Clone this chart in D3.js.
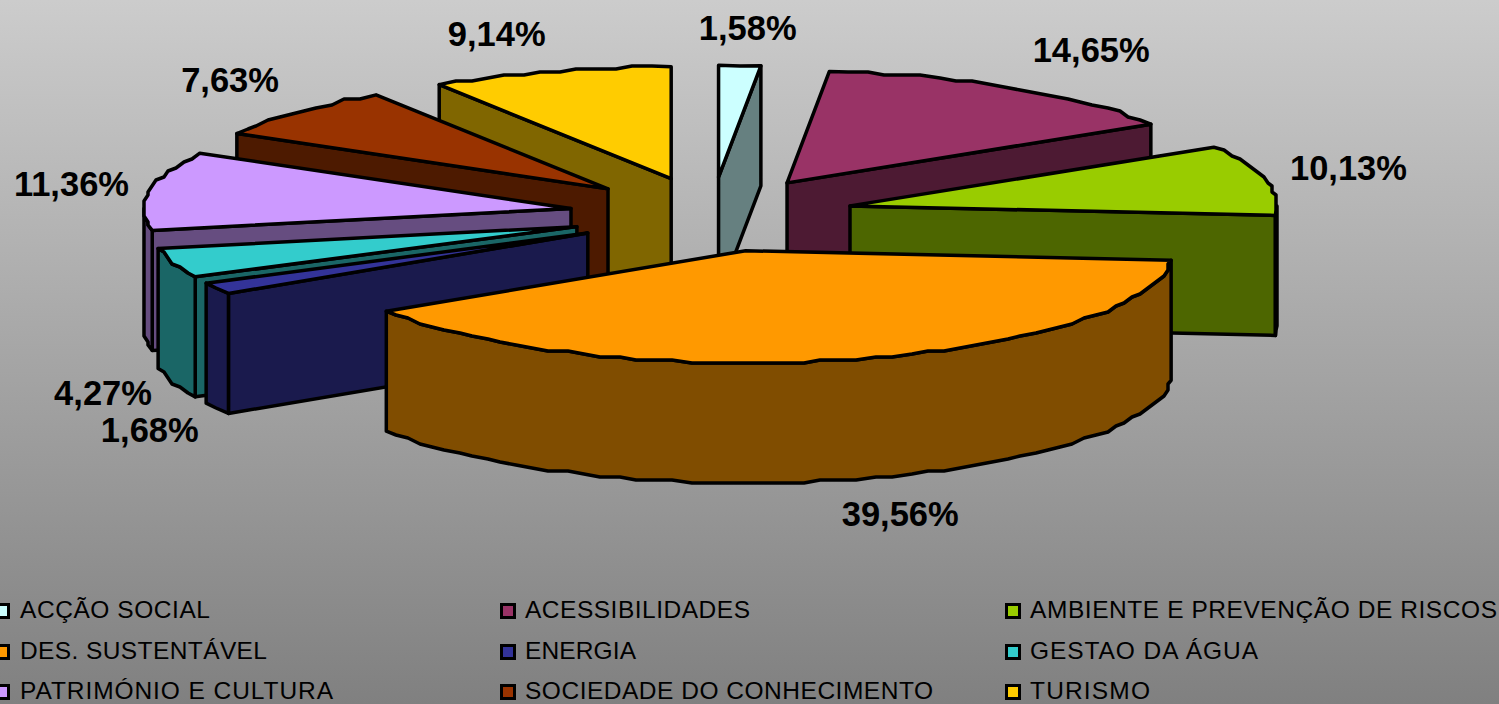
<!DOCTYPE html>
<html><head><meta charset="utf-8">
<script src="https://cdn.jsdelivr.net/npm/d3@7/dist/d3.min.js"></script>
<style>html,body{margin:0;padding:0;overflow:hidden;background:#888}svg{display:block}text{font-family:"Liberation Sans",Arial,sans-serif;fill:#000}</style>
</head><body><div id="chart"></div>
<script>
const categories=["ACÇÃO SOCIAL","ACESSIBILIDADES","AMBIENTE E PREVENÇÃO DE RISCOS","DES. SUSTENTÁVEL","ENERGIA","GESTAO DA ÁGUA","PATRIMÓNIO E CULTURA","SOCIEDADE DO CONHECIMENTO","TURISMO"];
const values=[1.58,14.65,10.13,39.56,1.68,4.27,11.36,7.63,9.14];
const colors=["#CCFFFF","#993366","#99CC00","#FF9900","#333399","#33CCCC","#CC99FF","#993300","#FFCC00"];

const W=1499,H=704,cx=711.5,cy=214.5,rx=427,ry=112,depth=120,explode=1/3;
const labelNudge=[[8,-37],[77.5,-38],[83,-12],[52,155],[-67,142],[-70,130],[-78,-7],[-67.5,-32],[-53.5,-37]];
const legendCols=[-4.5,501.5,1006.5],legendRows=[611,652,692],legendTextX=[20,525,1030];
const legendTextWidths=[190,225,467,247,111,228,313,408,120];

const svg=d3.select("#chart").append("svg").attr("width",W).attr("height",H);
const grad=svg.append("defs").append("linearGradient").attr("id","bg").attr("x1",0).attr("y1",0).attr("x2",0).attr("y2",1);
grad.append("stop").attr("offset",0).attr("stop-color","#CCCCCC");
grad.append("stop").attr("offset",1).attr("stop-color","#808080");
svg.append("rect").attr("width",W).attr("height",H).attr("fill","url(#bg)");

const arcs=d3.pie().sort(null).value(d=>d)(values);
const sx=d3.scaleLinear().domain([-1,1]).range([-rx,rx]);
const sy=d3.scaleLinear().domain([-1,1]).range([ry,-ry]);
const unit=a=>[Math.sin(a),Math.cos(a)];
const snap=(v,g)=>Math.round(v/g)*g;
const line=d3.line();

function rimPoints(a0,a1,ax,ay){
  const n=Math.max(1,Math.round((a1-a0)/(2.5*Math.PI/180))),pts=[];
  for(let i=0;i<=n;i++){
    const a=a0+(a1-a0)*i/n,[s,c]=unit(a);
    let x=ax+sx(s),y=ay+sy(c);
    if(i>0&&i<n){x=snap(x,4);y=snap(y,3);}
    pts.push([x,y]);
  }
  return pts;
}
const slices=arcs.map((d,i)=>{
  const m=(d.startAngle+d.endAngle)/2,[s,c]=unit(m);
  return {i,d,m,ax:cx+sx(s*explode),ay:cy+sy(c*explode),order:c};
}).sort((a,b)=>b.order-a.order);

const shade=c=>{const r=d3.rgb(c);return d3.rgb(r.r/2,r.g/2,r.b/2).formatHex();};
const g=svg.append("g").attr("stroke","#000").attr("stroke-width",3.5).attr("stroke-linejoin","round");
const down=p=>[p[0],p[1]+depth];

slices.forEach(S=>{
  const {d,ax,ay,i}=S,a0=d.startAngle,a1=d.endAngle;
  const dark=shade(colors[i]),rim=rimPoints(a0,a1,ax,ay),apex=[ax,ay];
  const wall=(p,q)=>g.append("path").attr("fill",dark).attr("d",line([p,q,down(q),down(p)])+"Z");
  if(Math.sin(a0)<0) wall(apex,rim[0]);
  if(Math.sin(a1)>0) wall(apex,rim[rim.length-1]);
  const from=Math.max(a0,Math.PI/2),to=Math.min(a1,3*Math.PI/2);
  if(to>from){
    const pts=rimPoints(from,to,ax,ay);
    g.append("path").attr("fill",dark).attr("d",line(pts.concat(pts.map(down).reverse()))+"Z");
  }
  g.append("path").attr("fill",colors[i]).attr("d",line([apex].concat(rim))+"Z");
});

const fmt=v=>v.toFixed(2).replace(".",",")+"%";
arcs.forEach((d,i)=>{
  const [s,c]=unit((d.startAngle+d.endAngle)/2),k=1+explode;
  svg.append("text").text(fmt(values[i]))
    .attr("x",cx+sx(s*k)+labelNudge[i][0]).attr("y",cy+sy(c*k)+labelNudge[i][1])
    .attr("text-anchor","middle").attr("dominant-baseline","central")
    .attr("font-size",34.5).attr("font-weight","bold");
});

categories.forEach((t,i)=>{
  const c=i%3,row=legendRows[Math.floor(i/3)];
  svg.append("rect").attr("x",legendCols[c]).attr("y",row-6.5).attr("width",13).attr("height",13)
    .attr("fill",colors[i]).attr("stroke","#000").attr("stroke-width",3);
  svg.append("text").text(t).attr("x",legendTextX[c]).attr("y",row+6.8).attr("font-size",24.5)
    .attr("textLength",legendTextWidths[i]).attr("lengthAdjust","spacing");
});
</script></body></html>
